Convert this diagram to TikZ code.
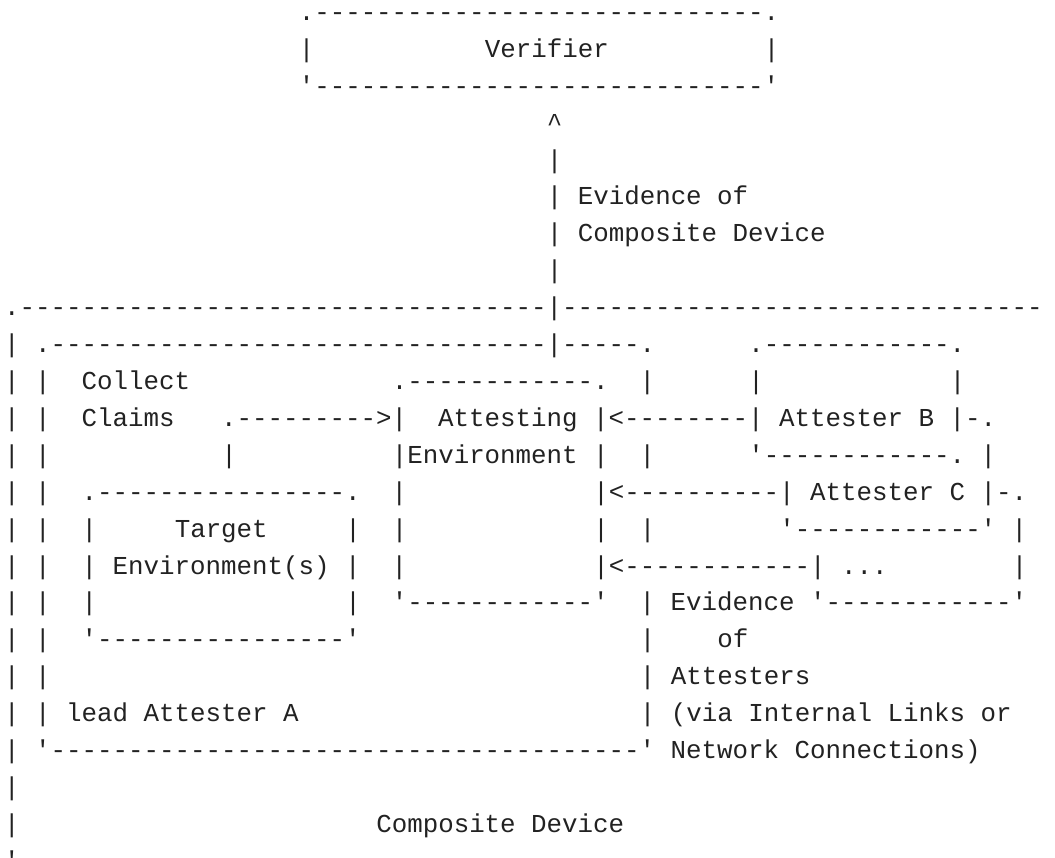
\documentclass[tikz,border=0pt]{standalone}
\usepackage{fontspec}
\setmonofont{Liberation Mono}
\definecolor{ink}{HTML}{222222}
\ExplSyntaxOn
\cs_new:Npn \Rep #1#2 { \prg_replicate:nn {#1} {#2} }
\ExplSyntaxOff
\frenchspacing
\tikzset{
  asciirow/.style={anchor=base west, inner sep=0pt, outer sep=0pt,
    font=\ttfamily\fontsize{25.83}{36.9}\selectfont, text=ink}
}
\begin{document}
\begin{tikzpicture}[x=1pt,y=-36.9pt]
\useasboundingbox (0pt,0pt) rectangle (1055pt,-858pt);
\fill[white] (0pt,0pt) rectangle (1055pt,-858pt);
\clip (0pt,0pt) rectangle (1055pt,-858pt);
\begin{scope}[yshift=-20.5pt]
\node[asciirow] (r0)  at (4.25,0)  {\Rep{19}{~}.\Rep{29}{-}.};
\node[asciirow] (r1)  at (4.25,1)  {\Rep{19}{~}|\Rep{11}{~}Verifier\Rep{10}{~}|};
\node[asciirow] (r2)  at (4.25,2)  {\Rep{19}{~}'\Rep{29}{-}'};
\node[asciirow] (r3)  at (4.25,3)  {\Rep{35}{~}\textasciicircum};
\node[asciirow] (r4)  at (4.25,4)  {\Rep{35}{~}|};
\node[asciirow] (r5)  at (4.25,5)  {\Rep{35}{~}|~Evidence~of};
\node[asciirow] (r6)  at (4.25,6)  {\Rep{35}{~}|~Composite~Device};
\node[asciirow] (r7)  at (4.25,7)  {\Rep{35}{~}|};
\node[asciirow] (r8)  at (4.25,8)  {.\Rep{34}{-}|\Rep{31}{-}};
\node[asciirow] (r9)  at (4.25,9)  {|~.\Rep{32}{-}|\Rep{5}{-}.\Rep{6}{~}.\Rep{12}{-}.};
\node[asciirow] (r10) at (4.25,10) {|~|~~Collect\Rep{13}{~}.\Rep{12}{-}.~~|\Rep{6}{~}|\Rep{12}{~}|};
\node[asciirow] (r11) at (4.25,11) {|~|~~Claims~~~.\Rep{9}{-}>|~~Attesting~|<\Rep{8}{-}|~Attester~B~|-.};
\node[asciirow] (r12) at (4.25,12) {|~|\Rep{11}{~}|\Rep{10}{~}|Environment~|~~|\Rep{6}{~}'\Rep{12}{-}.~|};
\node[asciirow] (r13) at (4.25,13) {|~|~~.\Rep{16}{-}.~~|\Rep{12}{~}|<\Rep{10}{-}|~Attester~C~|-.};
\node[asciirow] (r14) at (4.25,14) {|~|~~|\Rep{5}{~}Target\Rep{5}{~}|~~|\Rep{12}{~}|~~|\Rep{8}{~}'\Rep{12}{-}'~|};
\node[asciirow] (r15) at (4.25,15) {|~|~~|~Environment(s)~|~~|\Rep{12}{~}|<\Rep{12}{-}|~...\Rep{8}{~}|};
\node[asciirow] (r16) at (4.25,16) {|~|~~|\Rep{16}{~}|~~'\Rep{12}{-}'~~|~Evidence~'\Rep{12}{-}'};
\node[asciirow] (r17) at (4.25,17) {|~|~~'\Rep{16}{-}'\Rep{18}{~}|\Rep{4}{~}of};
\node[asciirow] (r18) at (4.25,18) {|~|\Rep{38}{~}|~Attesters};
\node[asciirow] (r19) at (4.25,19) {|~|~lead~Attester~A\Rep{22}{~}|~(via~Internal~Links~or};
\node[asciirow] (r20) at (4.25,20) {|~'\Rep{38}{-}'~Network~Connections)};
\node[asciirow] (r21) at (4.25,21) {|};
\node[asciirow] (r22) at (4.25,22) {|\Rep{23}{~}Composite~Device};
\node[asciirow] (r23) at (4.25,23) {'};
\end{scope}
\end{tikzpicture}
\end{document}
